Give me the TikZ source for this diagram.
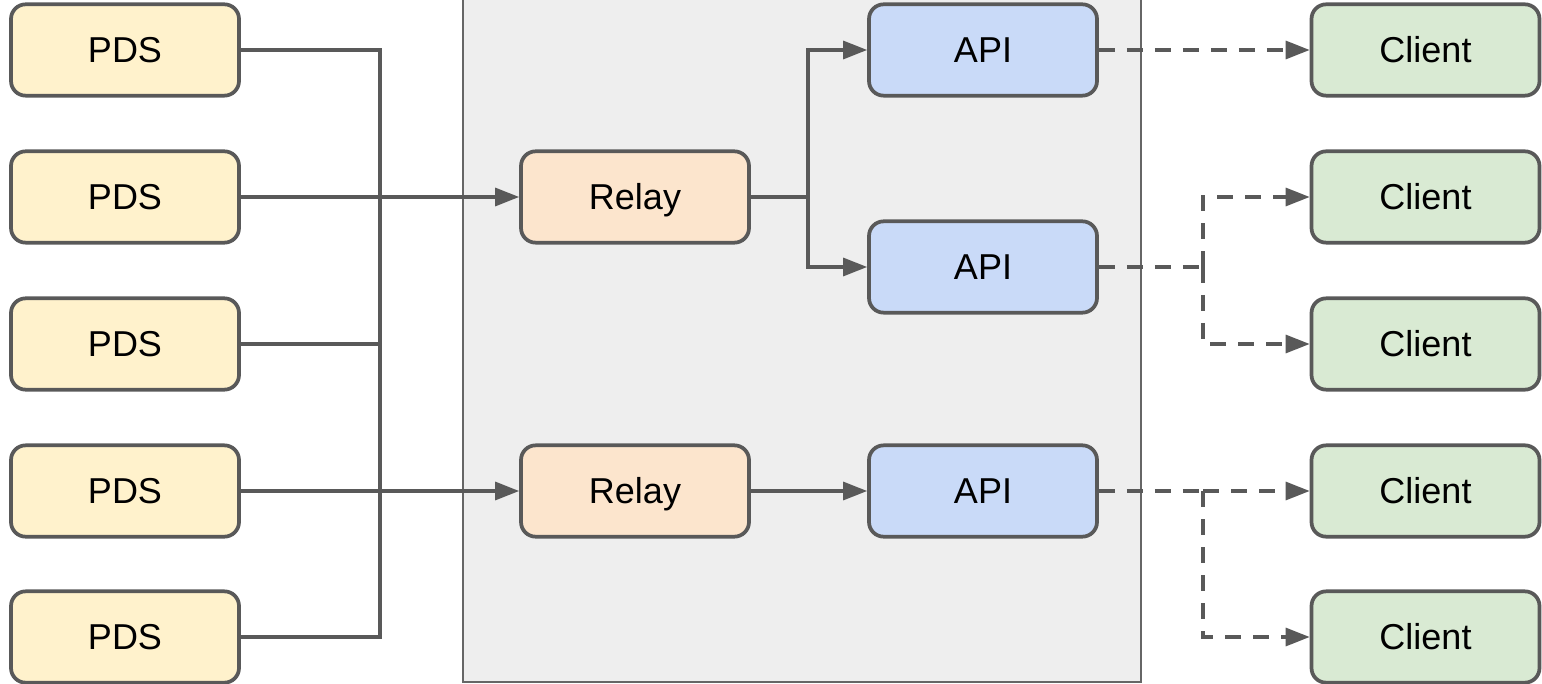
\documentclass[tikz,border=0pt]{standalone}
\usepackage{fontspec}
\setmainfont{Liberation Sans}
\usetikzlibrary{arrows.meta}
\definecolor{strk}{HTML}{595959}
\definecolor{pdsfill}{HTML}{FFF2CC}
\definecolor{relayfill}{HTML}{FCE5CD}
\definecolor{apifill}{HTML}{C9DAF8}
\definecolor{clientfill}{HTML}{D9EAD3}
\definecolor{panelfill}{HTML}{EEEEEE}
\definecolor{panelstrk}{HTML}{666666}
\tikzset{
  box/.style={draw=strk, line width=2.8pt, rounded corners=11pt, minimum width=171pt, minimum height=68.5pt, inner sep=0pt, font=\fontsize{27}{32}\selectfont, text height=19.4pt, text depth=0pt},
  pdsbox/.style={box, fill=pdsfill},
  relaybox/.style={box, fill=relayfill},
  apibox/.style={box, fill=apifill},
  clientbox/.style={box, fill=clientfill},
  conn/.style={draw=strk, line width=2.5pt},
  arr/.style={conn, -{Triangle[length=18pt, width=13.5pt]}},
  dconn/.style={conn, dash pattern=on 12pt off 9pt},
  darr/.style={dconn, -{Triangle[length=18pt, width=13.5pt]}},
}
\begin{document}
\begin{tikzpicture}[x=0.75pt, y=-0.75pt]
\useasboundingbox (0,0) rectangle (1542,684);
% panel
\draw[fill=panelfill, draw=panelstrk, line width=1.5pt] (463,-20) rectangle (1140.5,682);
% PDS
\node[pdsbox] (p1) at (125,50) {PDS};
\node[pdsbox] (p2) at (125,197) {PDS};
\node[pdsbox] (p3) at (125,344) {PDS};
\node[pdsbox] (p4) at (125,491) {PDS};
\node[pdsbox] (p5) at (125,637) {PDS};
% Relay
\node[relaybox] (r1) at (635,197) {Relay};
\node[relaybox] (r2) at (635,491) {Relay};
% API
\node[apibox] (a1) at (983,50) {API};
\node[apibox] (a2) at (983,267) {API};
\node[apibox] (a3) at (983,491) {API};
% Clients
\node[clientbox] (c1) at (1425.5,50) {Client};
\node[clientbox] (c2) at (1425.5,197) {Client};
\node[clientbox] (c3) at (1425.5,344) {Client};
\node[clientbox] (c4) at (1425.5,491) {Client};
\node[clientbox] (c5) at (1425.5,637) {Client};
% coordinates
\coordinate (t1) at (380,50);
\coordinate (t5) at (380,637);
\coordinate (f1) at (808,197);
\coordinate (g1) at (1203,267);
\coordinate (g2) at (1203,491);
% PDS trunk
\draw[conn] (p1.east) -- (t1) -- (t5) -- (p5.east);
\draw[conn] (p3.east) -- (p3.east -| t1);
\draw[arr] (p2.east) -- (r1.west);
\draw[arr] (p4.east) -- (r2.west);
% relay to API
\draw[conn] (r1.east) -- (f1);
\draw[arr] (f1) |- (a1.west);
\draw[arr] (f1) |- (a2.west);
\draw[arr] (r2.east) -- (a3.west);
% API to clients
\draw[darr] (a1.east) -- (c1.west);
\draw[dconn] (a2.east) -- (g1);
\draw[darr] (g1) |- (c2.west);
\draw[darr] (g1) |- (c3.west);
\draw[dconn] (a3.east) -- (g2);
\draw[darr] (g2) |- (c4.west);
\draw[darr] (g2) |- (c5.west);
\end{tikzpicture}
\end{document}
